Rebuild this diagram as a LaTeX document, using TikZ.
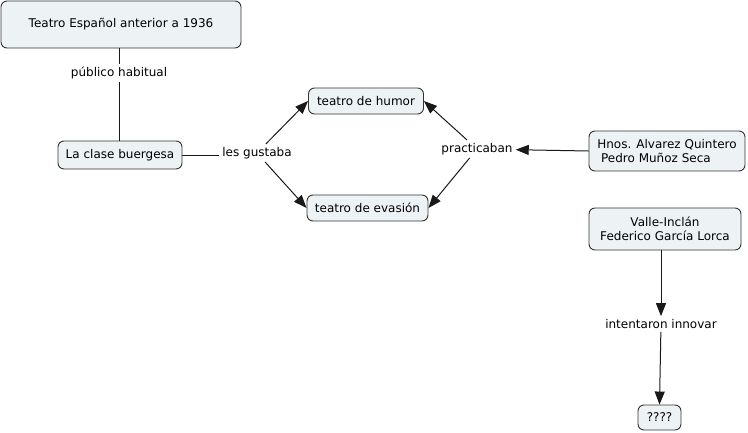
\documentclass[tikz,border=0pt]{standalone}
\usepackage{fontspec}
\setmainfont{DejaVu Sans}
\usetikzlibrary{arrows.meta}
\definecolor{boxfill}{HTML}{EDF3F5}
\definecolor{boxline}{HTML}{333333}
\tikzset{
  concept/.style={draw=boxline, fill=boxfill, rounded corners=6pt, line width=0.9pt, align=center, font=\fontsize{12}{14.5}\selectfont, inner sep=0pt},
  linklabel/.style={inner sep=3pt, font=\fontsize{12}{14.5}\selectfont},
  conn/.style={draw=black!90, line width=1pt},
  arr/.style={conn, -{Triangle[length=13pt,width=10pt]}}
}
\begin{document}
\begin{tikzpicture}[x=1pt,y=-1pt]
\useasboundingbox (0,0) rectangle (748,432);
\node[concept, minimum width=240pt, minimum height=47pt] (teatro) at (121,24.5) {Teatro Español anterior a 1936};
\node[linklabel] (publico) at (119,73) {público habitual};
\node[concept, minimum width=124pt, minimum height=28pt] (clase) at (120,155) {La clase buergesa};
\node[linklabel] (gustaba) at (257,153) {les gustaba};
\node[concept, minimum width=115pt, minimum height=26pt] (humor) at (366,101) {teatro de humor};
\node[concept, minimum width=121pt, minimum height=26pt] (evasion) at (367.5,208) {teatro de evasión};
\node[linklabel] (practicaban) at (477,149) {practicaban};
\node[concept, minimum width=156pt, minimum height=40pt, align=left] (hnos) at (667,151) {Hnos. Alvarez Quintero\\\ Pedro Muñoz Seca};
\node[concept, minimum width=152pt, minimum height=42pt] (valle) at (665,229) {Valle-Inclán\\Federico García Lorca};
\node[linklabel] (innovar) at (661,324) {intentaron innovar};
\node[concept, minimum width=43pt, minimum height=25pt] (q) at (659.5,417.5) {????};

\draw[conn] (teatro.south -| publico) -- (publico);
\draw[conn] (publico) -- (clase.north -| publico);
\draw[conn] (clase.east) -- (gustaba.west |- clase.east);
\draw[arr] (gustaba) -- (humor.west);
\draw[arr] (gustaba) -- (evasion.west);
\draw[arr] (hnos.west) -- (practicaban);
\draw[arr] (practicaban) -- (humor.east);
\draw[arr] (practicaban) -- (evasion.east);
\draw[arr] (valle.south -| innovar) -- (innovar);
\draw[arr] (innovar) -- (q.north);
\end{tikzpicture}
\end{document}
